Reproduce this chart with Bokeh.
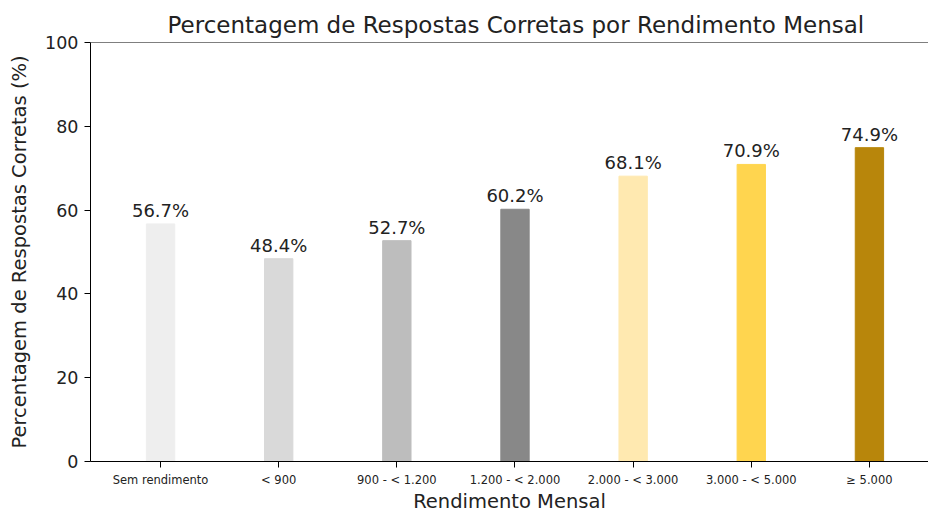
from bokeh.plotting import figure
from bokeh.models import ColumnDataSource, FixedTicker, Span, Range1d
from bokeh.core.properties import value
from bokeh.embed import file_html
from bokeh.resources import INLINE

categories = ["Sem rendimento", "< 900", "900 - < 1.200", "1.200 - < 2.000",
              "2.000 - < 3.000", "3.000 - < 5.000", "≥ 5.000"]
percentages = [56.7, 48.4, 52.7, 60.2, 68.1, 70.9, 74.9]
colors = ["#eeeeee", "#d9d9d9", "#bdbdbd", "#888888", "#ffe9b0", "#ffd54f", "#b8860b"]
y_ticks = [0, 20, 40, 60, 80, 100]

FONT = "DejaVu Sans"

xs = list(range(len(categories)))
src = ColumnDataSource(dict(
    x=xs, top=percentages, color=colors,
    label=[f"{v:.1f}%" for v in percentages],
))

p = figure(width=928, height=515, output_backend="svg", toolbar_location=None,
           x_range=Range1d(-0.593, 6.5), y_range=Range1d(0, 100),
           min_border_left=90, min_border_right=0, min_border_top=42,
           min_border_bottom=0,
           title="Percentagem de Respostas Corretas por Rendimento Mensal")

p.vbar(x="x", top="top", width=0.24, color="color", source=src)
p.text(x="x", y="top", text="label", source=src, text_align="center",
       text_baseline="bottom", y_offset=-3, text_font=value(FONT),
       text_font_size="18px", text_color="#222222")

p.outline_line_color = None
p.grid.visible = False
p.add_layout(Span(location=100, dimension="width", line_color="black", line_width=1))

p.title.text_font = FONT
p.title.text_font_size = "23px"
p.title.text_font_style = "normal"
p.title.align = "left"
p.title.offset = 77
p.title.text_color = "#222222"
p.title.standoff = 9

for ax in (p.xaxis[0], p.yaxis[0]):
    ax.axis_line_color = "black"
    ax.major_tick_line_color = "black"
    ax.major_tick_in = 0
    ax.major_tick_out = 6
    ax.minor_tick_line_color = None
    ax.major_label_text_font = FONT
    ax.axis_label_text_font = FONT
    ax.axis_label_text_font_style = "normal"
    ax.axis_label_text_font_size = "19.5px"
    ax.major_label_text_color = "#222222"
    ax.axis_label_text_color = "#222222"

p.xaxis.ticker = FixedTicker(ticks=xs)
p.xaxis.major_label_overrides = {i: c for i, c in enumerate(categories)}
p.xaxis.major_label_text_font_size = "11.5px"
p.xaxis.major_label_standoff = 5
p.xaxis.axis_label = "Rendimento Mensal"
p.xaxis.axis_label_standoff = 0

p.yaxis.ticker = FixedTicker(ticks=y_ticks)
p.yaxis.major_label_text_font_size = "17.5px"
p.yaxis.major_label_standoff = 6
p.yaxis.axis_label = "Percentagem de Respostas Corretas (%)"
p.yaxis.axis_label_standoff = 11

open("out.html", "w").write(file_html(p, INLINE))
